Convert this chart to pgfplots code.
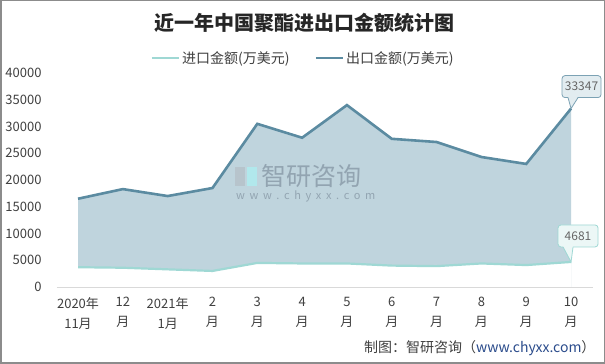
\documentclass[border=0pt]{standalone}
\usepackage{pgfplots}
\pgfplotsset{compat=1.18}
\usepackage{pgfplotstable}
\usepackage{fontspec}
\setmainfont{Noto Sans CJK SC}
\usetikzlibrary{calc}
\definecolor{expline}{HTML}{5B8BA1}
\definecolor{expfill}{HTML}{BFD4DD}
\definecolor{impline}{HTML}{9FD8D4}
\definecolor{txt}{HTML}{404040}
\definecolor{framegray}{HTML}{8C8C8C}
\definecolor{urlblue}{HTML}{2B4C8C}
\definecolor{wm}{HTML}{8495A3}
\pgfplotstableread{
x exp imp
0 16500 3700
1 18300 3600
2 17000 3300
3 18500 3000
4 30500 4500
5 27900 4400
6 34000 4400
7 27700 4000
8 27100 3900
9 24300 4400
10 23000 4100
11 33347 4681
}\datatable
\begin{document}
\begin{tikzpicture}[x=1pt,y=1pt]
\useasboundingbox (0,0) rectangle (605,364);
\fill[white] (0,0) rectangle (605,364);
\draw[line width=1.5pt, color=framegray] (0.75,0.75) rectangle (604.25,363.25);
\node[font=\fontsize{20}{24}\selectfont\bfseries, text=black!85] at (304,341) {近一年中国聚酯进出口金额统计图};
\node[font=\fontsize{14}{16}\selectfont, anchor=east] at (599,16) {\textcolor{txt}{制图：智研咨询（}\textcolor{urlblue}{www.chyxx.com}\textcolor{txt}{）}};
\begin{axis}[
  at={(57pt,77pt)}, anchor=south west, scale only axis,
  width=536pt, height=214pt,
  xmin=-0.469, xmax=11.49, ymin=0, ymax=40000,
  axis line style={draw=none}, major tick length=0pt,
  clip=false,
  xtick={0,...,11},
  xticklabels={2020年\\11月,12\\月,2021年\\1月,2\\月,3\\月,4\\月,5\\月,6\\月,7\\月,8\\月,9\\月,10\\月},
  xticklabel style={align=center, font=\fontsize{13}{20}\selectfont, text=txt, yshift=-7pt},
  ytick={0,5000,...,40000},
  scaled y ticks=false,
  /pgf/number format/assume math mode=true,
  /pgf/number format/1000 sep={},
  yticklabel style={font=\fontsize{13}{15}\selectfont, text=txt, xshift=-12pt},
  legend style={at={(0.459,1.07)}, anchor=center, draw=none, fill=none,
    legend columns=2, font=\fontsize{14}{16}\selectfont, text=txt,
    /tikz/column 2/.style={column sep=23pt}},
  legend image code/.code={\draw[line width=2.5pt] (0pt,0pt) -- (27pt,0pt);},
]
\addplot[fill=expfill, draw=none, forget plot] table[x=x,y=exp] {\datatable} \closedcycle;
\addplot[fill=white, draw=none, forget plot] table[x=x,y=imp] {\datatable} \closedcycle;
\draw[color=black!15, line width=1pt] (rel axis cs:0,0) -- (rel axis cs:1,0);
\addplot[impline, line width=2.2pt] table[x=x,y=imp] {\datatable};
\addlegendentry{进口金额(万美元)}
\addplot[expline, line width=2.6pt] table[x=x,y=exp] {\datatable};
\addlegendentry{出口金额(万美元)}
% callouts
\coordinate (p1) at (axis cs:11,33347);
\coordinate (p2) at (axis cs:11,4681);
\draw[draw=expline!80, fill=expfill!45, rounded corners=3pt, line width=0.8pt] ($(p1)+(-9pt,11pt)$) rectangle ($(p1)+(30pt,33pt)$);
\fill[expfill!45] (p1) -- ($(p1)+(-3pt,11.8pt)$) -- ($(p1)+(7pt,11.8pt)$) -- cycle;
\draw[expline!80, line width=0.8pt] ($(p1)+(-3pt,11pt)$) -- (p1) -- ($(p1)+(7pt,11pt)$);
\node[font=\fontsize{12}{14}\selectfont, text=black!60] at ($(p1)+(10.5pt,22pt)$) {33347};
\draw[draw=impline, fill=impline!20, rounded corners=3pt, line width=0.8pt] ($(p2)+(-13pt,15pt)$) rectangle ($(p2)+(27pt,37pt)$);
\fill[impline!20] (p2) -- ($(p2)+(-8pt,15.8pt)$) -- ($(p2)+(2pt,15.8pt)$) -- cycle;
\draw[impline, line width=0.8pt] ($(p2)+(-8pt,15pt)$) -- (p2) -- ($(p2)+(2pt,15pt)$);
\node[font=\fontsize{12}{14}\selectfont, text=black!60] at ($(p2)+(7pt,26pt)$) {4681};
\end{axis}
% watermark
\fill[wm!60, opacity=0.8] (235,178) rectangle (245,197);
\fill[wm!40!cyan!40, opacity=0.8] (247,178) rectangle (257,197);
\node[font=\fontsize{25}{27}\selectfont, text=wm, opacity=0.75, anchor=base west, inner sep=0pt] at (261,178) {智研咨询};
\node[font=\fontsize{11}{12}\selectfont, text=wm, opacity=0.75, anchor=base west, inner sep=0pt] at (236,164) {w\hspace{4.6pt}w\hspace{4.6pt}w\hspace{4.6pt}.\hspace{4.6pt}c\hspace{4.6pt}h\hspace{4.6pt}y\hspace{4.6pt}x\hspace{4.6pt}x\hspace{4.6pt}.\hspace{4.6pt}c\hspace{4.6pt}o\hspace{4.6pt}m};
\end{tikzpicture}
\end{document}
